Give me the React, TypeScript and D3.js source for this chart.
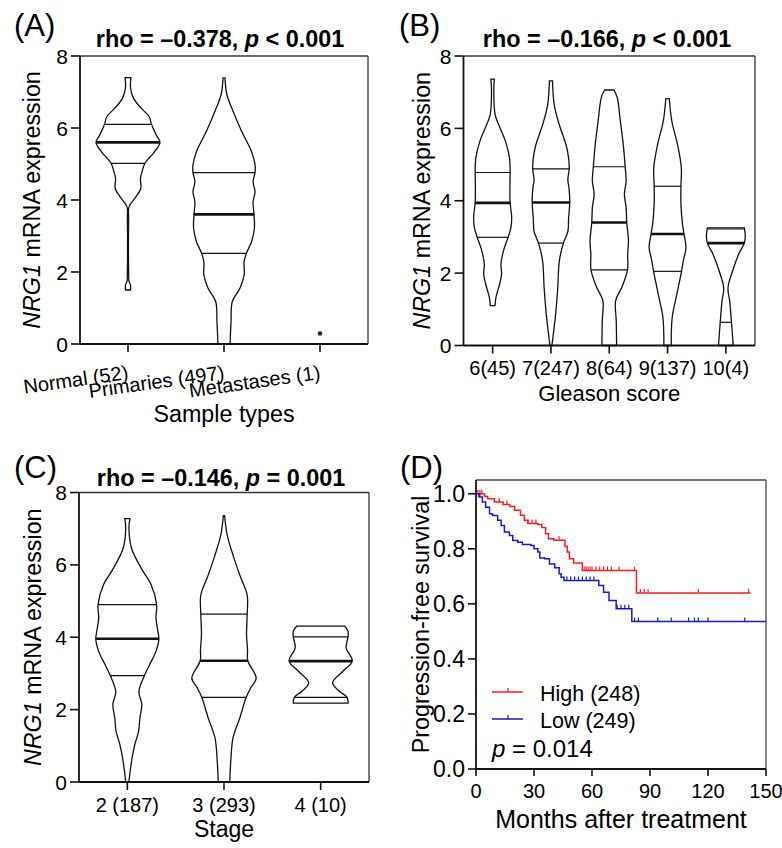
import React from 'react';
import * as d3 from 'd3';

const FONT = '"Liberation Sans", Arial, Helvetica, sans-serif';

// ---------- (A) sample types : [expression, relative density]
const typeLabels = ['Normal (52)', 'Primaries (497)', 'Metastases (1)'];
const normalDensity = [
  [7.40, 0.09], [7.11, 0.08], [6.83, 0.17], [6.55, 0.41], [6.32, 0.66], [6.09, 0.74],
  [5.81, 0.88], [5.60, 1.0], [5.34, 0.83], [5.02, 0.53], [4.79, 0.44], [4.60, 0.39],
  [4.32, 0.40], [4.08, 0.24], [3.81, 0.03], [3.5, 0.02], [2.0, 0.02], [1.75, 0.03],
  [1.63, 0.08], [1.5, 0.08],
];
const primaryDensity = [
  [7.39, 0.03], [6.93, 0.09], [6.47, 0.28], [5.91, 0.55], [5.35, 0.86], [4.98, 0.97],
  [4.76, 0.97], [4.51, 0.91], [4.23, 0.97], [3.95, 0.91], [3.60, 0.94], [3.21, 0.95],
  [2.84, 0.86], [2.52, 0.70], [2.29, 0.63], [1.92, 0.63], [1.55, 0.5], [1.18, 0.26],
  [0.62, 0.22], [0, 0.19],
];
const typeQuartiles = [[5.02, 5.60, 6.10], [2.52, 3.60, 4.76], null];
const metastasisValue = 0.29;

// ---------- (B) Gleason score
const gleasonLabels = ['6(45)', '7(247)', '8(64)', '9(137)', '10(4)'];
const gleason6 = [
  [7.36, 0.09], [7.11, 0.06], [6.37, 0.13], [6.05, 0.35], [5.64, 0.66], [5.18, 0.87],
  [4.79, 0.90], [4.36, 0.89], [3.95, 0.90], [3.54, 0.98], [3.26, 0.94], [3.00, 0.80],
  [2.62, 0.56], [2.25, 0.43], [1.97, 0.46], [1.70, 0.36], [1.33, 0.17], [1.10, 0.12],
];
const gleason7 = [
  [7.31, 0.08], [6.65, 0.17], [6.10, 0.43], [5.54, 0.78], [5.18, 0.91], [4.88, 0.94],
  [4.58, 0.87], [4.35, 0.93], [3.98, 0.97], [3.52, 0.91], [3.15, 0.87], [2.83, 0.64],
  [2.33, 0.43], [1.59, 0.35], [0.86, 0.24], [0, 0.05],
];
const gleason8 = [
  [7.06, 0.24], [6.85, 0.41], [6.21, 0.57], [5.56, 0.72], [4.94, 0.82], [4.55, 0.87],
  [4.18, 0.78], [3.81, 0.87], [3.40, 0.90], [2.90, 0.99], [2.53, 0.95], [2.09, 0.94],
  [1.61, 0.65], [1.24, 0.33], [0.69, 0.36], [0, 0.38],
];
const gleason9 = [
  [6.82, 0.09], [6.20, 0.22], [5.56, 0.51], [4.91, 0.71], [4.40, 0.69], [3.90, 0.69],
  [3.35, 0.77], [3.08, 0.85], [2.71, 0.95], [2.34, 0.81], [2.05, 0.72], [1.42, 0.48],
  [0.78, 0.24], [0, 0.19],
];
const gleason10 = [
  [3.25, 0.95], [3.02, 1.0], [2.83, 0.95], [2.51, 0.65], [2.05, 0.34], [1.59, 0.11],
  [1.22, 0.20], [0.64, 0.29], [0, 0.38],
];
const gleasonQuartiles = [
  [2.99, 3.94, 4.78], [2.83, 3.95, 4.88], [2.09, 3.40, 4.94], [2.05, 3.08, 4.40], [0.64, 2.83, 3.22],
];

// ---------- (C) stage
const stageLabels = ['2 (187)', '3 (293)', '4 (10)'];
const stage2 = [
  [7.28, 0.08], [7.01, 0.05], [6.46, 0.13], [5.91, 0.43], [5.45, 0.74], [4.90, 0.91],
  [4.53, 0.89], [4.16, 0.95], [3.96, 0.98], [3.61, 0.89], [3.24, 0.69], [2.94, 0.53],
  [2.50, 0.36], [2.14, 0.45], [1.77, 0.39], [1.40, 0.35], [1.03, 0.23], [0.57, 0.13],
  [0, 0.05],
];
const stage3 = [
  [7.36, 0.02], [6.82, 0.10], [6.27, 0.28], [5.72, 0.49], [5.17, 0.72], [4.64, 0.72],
  [4.07, 0.70], [3.66, 0.73], [3.35, 0.74], [2.87, 1.0], [2.60, 0.83], [2.34, 0.69],
  [1.77, 0.49], [1.22, 0.28], [0.57, 0.21], [0, 0.18],
];
const stage4 = [
  [4.31, 0.74], [4.17, 0.85], [4.01, 0.85], [3.71, 0.79], [3.34, 0.98], [3.06, 0.69],
  [2.74, 0.37], [2.51, 0.58], [2.34, 0.82], [2.18, 0.85],
];
const stageQuartiles = [[2.94, 3.96, 4.90], [2.34, 3.35, 4.64], [2.34, 3.34, 4.01]];

// ---------- (D) progression-free survival : [month, survival from that month]
const highSteps = [
  [0, 1.0], [4.5, 0.99], [6, 0.982], [9.5, 0.97], [14, 0.961], [17.5, 0.954], [20, 0.94],
  [23, 0.922], [25, 0.904], [26.8, 0.892], [32, 0.888], [34, 0.877], [36, 0.855],
  [37.5, 0.837], [40.2, 0.831], [46, 0.809], [47.2, 0.788], [48.3, 0.764], [50.5, 0.748],
  [55, 0.721], [83, 0.639],
];
const highEnd = 142;
const highCensor = [1, 2, 3, 12, 16, 27, 29, 31, 43, 56, 57, 58, 59, 60, 62, 64, 66, 68, 70, 74, 82, 85, 87, 89, 115, 141];
const lowSteps = [
  [0, 1.0], [1.5, 0.988], [3.3, 0.97], [5, 0.951], [7, 0.927], [8.6, 0.921], [11.2, 0.904],
  [13, 0.885], [14.7, 0.861], [17.3, 0.848], [19, 0.83], [21.6, 0.824], [24, 0.816],
  [28.4, 0.812], [30, 0.8], [32, 0.788], [33, 0.767], [35.6, 0.764], [38, 0.745],
  [40.7, 0.731], [43, 0.709], [44, 0.697], [45.5, 0.685], [63.5, 0.667], [66, 0.642],
  [68.8, 0.612], [72.5, 0.582], [80.6, 0.536],
];
const lowEnd = 150;
const lowCensor = [2, 47, 49, 51, 53, 55, 57, 59, 61, 73, 75, 77, 79, 82, 84, 94, 101, 110, 113, 115, 120, 139];
const groupNames = ['High (248)', 'Low (249)'];
const groupColors = ['#ff1f1f', '#1a1acc'];

const halfAt = (profile, v) => {
  for (let i = 0; i < profile.length - 1; i++) {
    const a = profile[i], b = profile[i + 1];
    if (v <= a[0] && v >= b[0]) {
      const t = (a[0] - v) / (a[0] - b[0] || 1);
      return a[1] + (b[1] - a[1]) * t;
    }
  }
  return profile[profile.length - 1][1];
};

const PanelLetter = ({ x, y, text }) => (
  <text x={x} y={y} fontSize={31} fontFamily={FONT}>{text}</text>
);

const Title = ({ x, y, rho, op, p }) => (
  <text x={x} y={y} fontSize={23.4} fontWeight="bold" textAnchor="middle" fontFamily={FONT}>
    {`rho = \u2013${rho}, `}<tspan fontStyle="italic">p</tspan>{` ${op} ${p}`}
  </text>
);

const YTitle = ({ x, y, size }) => (
  <text transform={`translate(${x},${y}) rotate(-90)`} textAnchor="middle" fontSize={size} fontFamily={FONT}>
    <tspan fontStyle="italic">NRG1</tspan> mRNA expression
  </text>
);

function ViolinPanel({ box, labels, profiles, quartiles, dot, letter, title, xTitle, rotate, tickBase, xTitleBase, xTitleSize, yTitleX }) {
  const x = d3.scaleBand().domain(labels).range([box.left, box.right]);
  const y = d3.scaleLinear().domain([0, 8]).range([box.bottom, box.top]);
  const w = d3.scaleLinear().domain([0, 1]).range([0, x.bandwidth() * 0.333]);
  const cx = (l) => x(l) + x.bandwidth() / 2;
  const midX = (box.left + box.right) / 2;

  return (
    <g fontFamily={FONT}>
      <PanelLetter x={letter.x} y={letter.y} text={letter.text} />
      <Title x={title.x} y={title.y} rho={title.rho} op={title.op} p={title.p} />
      {labels.map((l, i) => {
        const prof = profiles[i];
        if (!prof) return null;
        const c = cx(l);
        const area = d3.area()
          .y(d => y(d[0]))
          .x0(d => c - w(d[1]))
          .x1(d => c + w(d[1]))
          .curve(d3.curveCatmullRom.alpha(0.5));
        const q = quartiles[i];
        return (
          <g key={l}>
            <path d={area(prof)} fill="none" stroke="#111" strokeWidth={1.3} />
            {q && q.map((v, k) => {
              const hw = w(halfAt(prof, v));
              return (
                <line key={k} x1={c - hw} x2={c + hw} y1={y(v)} y2={y(v)}
                  stroke="#111" strokeWidth={k === 1 ? 2.6 : 1.2} />
              );
            })}
          </g>
        );
      })}
      {dot && <circle cx={cx(labels[dot.index])} cy={y(dot.value)} r={2.2} fill="#111" />}
      {/* frame */}
      <line x1={box.left} x2={box.right} y1={box.top} y2={box.top} stroke="#333" strokeWidth={1.3} />
      <line x1={box.right} x2={box.right} y1={box.top} y2={box.bottom} stroke="#333" strokeWidth={1.3} />
      <line x1={box.left} x2={box.left} y1={box.top} y2={box.bottom} stroke="#111" strokeWidth={1.8} />
      <line x1={box.left} x2={box.right} y1={box.bottom} y2={box.bottom} stroke="#111" strokeWidth={1.8} />
      {y.ticks(4).map(t => (
        <g key={t}>
          <line x1={box.left - 9} x2={box.left} y1={y(t)} y2={y(t)} stroke="#111" strokeWidth={1.6} />
          <text x={box.left - 12} y={y(t)} dy="0.36em" textAnchor="end" fontSize={21}>{t}</text>
        </g>
      ))}
      {labels.map(l => (
        <g key={l}>
          <line x1={cx(l)} x2={cx(l)} y1={box.bottom} y2={box.bottom + 8} stroke="#111" strokeWidth={1.6} />
          {rotate
            ? <text transform={`translate(${cx(l) + 1},${tickBase}) rotate(${rotate})`} textAnchor="end" fontSize={20}>{l}</text>
            : <text x={cx(l)} y={tickBase} textAnchor="middle" fontSize={20}>{l}</text>}
        </g>
      ))}
      <text x={midX} y={xTitleBase} textAnchor="middle" fontSize={xTitleSize}>{xTitle}</text>
      <YTitle x={yTitleX} y={(box.top + box.bottom) / 2} size={23.3} />
    </g>
  );
}

function SurvivalPanel() {
  const box = { left: 476, right: 766, top: 480, bottom: 769 };
  const x = d3.scaleLinear().domain([0, 150]).range([box.left, box.right]);
  const y = d3.scaleLinear().domain([0, 1.05]).range([box.bottom, box.top]);
  const line = d3.line().x(d => x(d[0])).y(d => y(d[1])).curve(d3.curveStepAfter);
  const groups = [
    { steps: highSteps, end: highEnd, censor: highCensor },
    { steps: lowSteps, end: lowEnd, censor: lowCensor },
  ];
  const survAt = (steps, t) => {
    const i = d3.bisector(d => d[0]).right(steps, t) - 1;
    return steps[Math.max(0, i)][1];
  };
  const legendY = [692, 719];

  return (
    <g fontFamily={FONT}>
      <PanelLetter x={400} y={478} text="(D)" />
      {groups.map((g, gi) => {
        const pts = [...g.steps, [g.end, g.steps[g.steps.length - 1][1]]];
        return (
          <g key={gi} stroke={groupColors[gi]} strokeWidth={1.5} fill="none">
            <path d={line(pts)} />
            {g.censor.map((t, k) => {
              const s = survAt(g.steps, t);
              return <line key={k} x1={x(t)} x2={x(t)} y1={y(s)} y2={y(s) - 4} strokeWidth={1.2} />;
            })}
          </g>
        );
      })}
      <line x1={box.left} x2={box.right} y1={box.top} y2={box.top} stroke="#444" strokeWidth={1.3} />
      <line x1={box.right} x2={box.right} y1={box.top} y2={box.bottom} stroke="#444" strokeWidth={1.3} />
      <line x1={box.left} x2={box.left} y1={box.top} y2={box.bottom} stroke="#111" strokeWidth={1.8} />
      <line x1={box.left} x2={box.right} y1={box.bottom} y2={box.bottom} stroke="#111" strokeWidth={1.8} />
      {d3.range(0, 1.01, 0.2).map(t => (
        <g key={t}>
          <line x1={box.left - 8} x2={box.left} y1={y(t)} y2={y(t)} stroke="#111" strokeWidth={1.6} />
          <text x={box.left - 11} y={y(t)} dy="0.36em" textAnchor="end" fontSize={23}>{d3.format('.1f')(t)}</text>
        </g>
      ))}
      {d3.range(0, 151, 30).map(t => (
        <g key={t}>
          <line x1={x(t)} x2={x(t)} y1={box.bottom} y2={box.bottom + 7} stroke="#111" strokeWidth={1.6} />
          <text x={x(t)} y={798} textAnchor="middle" fontSize={20}>{t}</text>
        </g>
      ))}
      <text x={(box.left + box.right) / 2} y={828} textAnchor="middle" fontSize={25}>Months after treatment</text>
      <text transform={`translate(429,${(box.top + box.bottom) / 2}) rotate(-90)`} textAnchor="middle" fontSize={23.3}>
        Progression-free survival
      </text>
      {groupNames.map((n, i) => (
        <g key={n}>
          <line x1={492} x2={523} y1={legendY[i]} y2={legendY[i]} stroke={groupColors[i]} strokeWidth={1.5} />
          <line x1={508} x2={508} y1={legendY[i]} y2={legendY[i] - 4} stroke={groupColors[i]} strokeWidth={1.2} />
          <text x={540} y={legendY[i] + 8.5} fontSize={21.5}>{n}</text>
        </g>
      ))}
      <text x={492} y={757} fontSize={24}><tspan fontStyle="italic">p</tspan> = 0.014</text>
    </g>
  );
}

export default function App() {
  return (
    <svg width={782} height={848} style={{ position: 'absolute', left: 0, top: 0, background: '#fff' }}>
      <ViolinPanel
        box={{ left: 80, right: 368, top: 56, bottom: 344 }}
        labels={typeLabels}
        profiles={[normalDensity, primaryDensity, null]}
        quartiles={typeQuartiles}
        dot={{ index: 2, value: metastasisValue }}
        letter={{ x: 14, y: 36, text: '(A)' }}
        title={{ x: 220, y: 47, rho: '0.378', op: '<', p: '0.001' }}
        xTitle="Sample types"
        rotate={-8}
        tickBase={379}
        xTitleBase={422}
        xTitleSize={23.3}
        yTitleX={40}
      />
      <ViolinPanel
        box={{ left: 463.5, right: 755, top: 56, bottom: 345.5 }}
        labels={gleasonLabels}
        profiles={[gleason6, gleason7, gleason8, gleason9, gleason10]}
        quartiles={gleasonQuartiles}
        letter={{ x: 399, y: 36, text: '(B)' }}
        title={{ x: 607, y: 47, rho: '0.166', op: '<', p: '0.001' }}
        xTitle="Gleason score"
        tickBase={375}
        xTitleBase={401}
        xTitleSize={22}
        yTitleX={430}
      />
      <ViolinPanel
        box={{ left: 79, right: 369, top: 492.5, bottom: 782 }}
        labels={stageLabels}
        profiles={[stage2, stage3, stage4]}
        quartiles={stageQuartiles}
        letter={{ x: 14, y: 478, text: '(C)' }}
        title={{ x: 221, y: 486, rho: '0.146', op: '=', p: '0.001' }}
        xTitle="Stage"
        tickBase={812}
        xTitleBase={837}
        xTitleSize={23}
        yTitleX={41}
      />
      <SurvivalPanel />
    </svg>
  );
}
